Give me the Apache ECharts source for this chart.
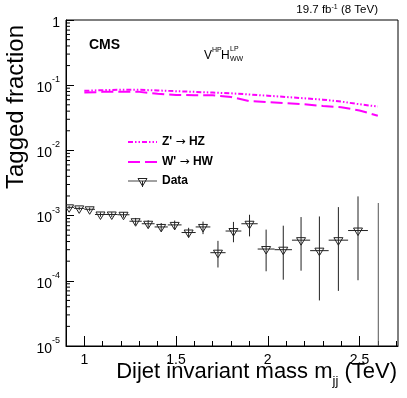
<!DOCTYPE html>
<html>
<head>
<meta charset="utf-8">
<script src="https://cdn.jsdelivr.net/npm/echarts@6/dist/echarts.min.js"></script>
<style>
  html, body { margin: 0; padding: 0; background: #fff; }
  #chart { width: 407px; height: 398px; }
</style>
</head>
<body>
<div id="chart"></div>
<script>
// dijet mass bins (TeV)
const binEdges = [0.890, 0.944, 1.000, 1.058, 1.118, 1.181, 1.246, 1.313, 1.383, 1.455, 1.530,
                  1.607, 1.687, 1.770, 1.856, 1.945, 2.037, 2.132, 2.231, 2.332, 2.438, 2.546, 2.659];
// tagged fraction in data, with error band
const dataVal = [1.34e-3, 1.29e-3, 1.25e-3, 1.04e-3, 1.04e-3, 1.03e-3, 8.2e-4, 7.5e-4, 6.7e-4, 7.2e-4, 5.5e-4,
                 6.7e-4, 2.7e-4, 5.8e-4, 7.5e-4, 3.07e-4, 3.0e-4, 4.2e-4, 2.9e-4, 4.2e-4, 5.9e-4, 0];
const dataHi  = [1.42e-3, 1.37e-3, 1.33e-3, 1.12e-3, 1.13e-3, 1.13e-3, 9.2e-4, 8.5e-4, 7.7e-4, 8.4e-4, 6.5e-4,
                 8.1e-4, 4.1e-4, 8.0e-4, 1.03e-3, 6.1e-4, 7.0e-4, 9.5e-4, 9.7e-4, 1.35e-3, 1.97e-3, 1.56e-3];
const dataLo  = [1.26e-3, 1.21e-3, 1.17e-3, 9.6e-4, 9.5e-4, 9.3e-4, 7.2e-4, 6.5e-4, 5.8e-4, 6.1e-4, 4.6e-4,
                 5.2e-4, 1.6e-4, 3.9e-4, 4.8e-4, 1.4e-4, 1.04e-4, 1.43e-4, 5.0e-5, 7.0e-5, 1.02e-4, 0];
// signal efficiencies vs resonance mass
const sigMass  = [1.0, 1.1, 1.2, 1.3, 1.4, 1.5, 1.6, 1.7, 1.8, 1.9, 2.0, 2.1, 2.2, 2.3, 2.4, 2.5, 2.6];
const zprimeHZ = [0.082, 0.084, 0.085, 0.085, 0.083, 0.081, 0.079, 0.077, 0.075, 0.072, 0.069, 0.066, 0.063, 0.060, 0.056, 0.051, 0.047];
const wprimeHW = [0.077, 0.079, 0.079, 0.079, 0.074, 0.071, 0.070, 0.070, 0.066, 0.057, 0.055, 0.053, 0.051, 0.048, 0.046, 0.041, 0.034];
// axis ticks
const xMajorTicks = [1, 1.5, 2, 2.5];
const xMinorTicks = [1.1, 1.2, 1.3, 1.4, 1.6, 1.7, 1.8, 1.9, 2.1, 2.2, 2.3, 2.4, 2.6, 2.7];
const yMinorTicks = [];
[-5, -4, -3, -2, -1].forEach(function (e) {
  for (let k = 2; k <= 9; k++) yMinorTicks.push(k * Math.pow(10, e));
});

const X_MIN = 0.9, X_MAX = 2.71;
const FONT = 'Liberation Sans, Arial, sans-serif';

const dataRows = dataVal.map(function (v, i) {
  return [binEdges[i], binEdges[i + 1], v, dataLo[i], dataHi[i]];
});

function renderData(params, api) {
  const x0 = api.value(0), x1 = api.value(1), v = api.value(2), lo = api.value(3), hi = api.value(4);
  const xc = (x0 + x1) / 2;
  const cs = params.coordSys;
  const style = { stroke: '#222', lineWidth: 1, fill: null };
  const top = api.coord([xc, hi]);
  const kids = [];
  if (v > 0) {
    const c = api.coord([xc, v]);
    const l = api.coord([x0, v]);
    const r = api.coord([x1, v]);
    const b = api.coord([xc, lo]);
    kids.push({ type: 'line', shape: { x1: l[0], y1: c[1], x2: r[0], y2: c[1] }, style: style });
    kids.push({ type: 'line', shape: { x1: c[0], y1: top[1], x2: c[0], y2: b[1] }, style: style });
    kids.push({ type: 'polygon', shape: { points: [[c[0] - 4.5, c[1] - 2.5], [c[0] + 4.5, c[1] - 2.5], [c[0], c[1] + 5]] },
                style: { stroke: '#222', lineWidth: 1, fill: 'rgba(255,255,255,0)' } });
  } else {
    kids.push({ type: 'line', shape: { x1: top[0], y1: top[1], x2: top[0], y2: cs.y + cs.height }, style: { stroke: '#555', lineWidth: 1 } });
  }
  return { type: 'group', children: kids };
}

function renderMinorY(params, api) {
  const p = api.coord([api.value(0), api.value(1)]);
  return { type: 'line', shape: { x1: p[0], y1: p[1], x2: p[0] + 4, y2: p[1] }, style: { stroke: '#000', lineWidth: 1 } };
}

const chart = echarts.init(document.getElementById('chart'));

const arrowRich = { a: { fontFamily: 'DejaVu Sans', fontSize: 12, fill: '#000' } };

const option = {
  animation: false,
  backgroundColor: '#fff',
  grid: { left: 66, right: 9, top: 20, bottom: 52, show: true, borderColor: '#000', borderWidth: 1 },
  xAxis: [
    {
      type: 'value', min: X_MIN, max: X_MAX,
      axisLine: { lineStyle: { color: '#000' } },
      splitLine: { show: false },
      axisTick: { inside: true, length: 10, customValues: xMajorTicks, lineStyle: { color: '#000' } },
      axisLabel: { customValues: xMajorTicks, margin: 7, fontFamily: FONT, fontSize: 14, color: '#000',
                   formatter: function (v) { return String(v); } }
    },
    {
      type: 'value', min: X_MIN, max: X_MAX, position: 'bottom',
      axisLine: { show: false },
      splitLine: { show: false },
      axisTick: { inside: true, length: 5, customValues: xMinorTicks, lineStyle: { color: '#000' } },
      axisLabel: { show: false }
    }
  ],
  yAxis: {
    type: 'log', logBase: 10, min: 1e-5, max: 1,
    axisLine: { lineStyle: { color: '#000' } },
    splitLine: { show: false },
    axisTick: { inside: true, length: 8, lineStyle: { color: '#000' } },
    axisLabel: {
      margin: 6, color: '#000',
      formatter: function (v) {
        const e = Math.round(Math.log10(v));
        return e === 0 ? '{b|1}' : '{b|10}{s|' + e + '}';
      },
      rich: {
        b: { fontFamily: FONT, fontSize: 14, lineHeight: 20, verticalAlign: 'bottom', color: '#000' },
        s: { fontFamily: FONT, fontSize: 9, lineHeight: 20, verticalAlign: 'top', color: '#000' }
      }
    }
  },
  series: [
    {
      name: "Z' \u2192 HZ", type: 'line', xAxisIndex: 0, showSymbol: false, silent: true,
      data: sigMass.map(function (m, i) { return [m, zprimeHZ[i]]; }),
      lineStyle: { color: '#ff00ff', width: 2, type: [5, 2, 1.5, 2, 1.5, 2] }
    },
    {
      name: "W' \u2192 HW", type: 'line', xAxisIndex: 0, showSymbol: false, silent: true,
      data: sigMass.map(function (m, i) { return [m, wprimeHW[i]]; }),
      lineStyle: { color: '#ff00ff', width: 2, type: [12, 5] }
    },
    {
      name: 'Data', type: 'custom', xAxisIndex: 0, clip: true, silent: true,
      renderItem: renderData, data: dataRows
    },
    {
      name: 'yminor', type: 'custom', xAxisIndex: 0, silent: true,
      renderItem: renderMinorY,
      data: yMinorTicks.map(function (v) { return [X_MIN, v]; })
    }
  ],
  graphic: [
    { type: 'text', x: 89, y: 38, style: { text: 'CMS', font: 'bold 14px ' + FONT, fill: '#000' } },
    { type: 'text', x: 378, y: 16, style: { text: '19.7 fb{s|-1} (8 TeV)', textAlign: 'right', textVerticalAlign: 'bottom',
        font: '11.5px ' + FONT, fill: '#000',
        rich: { s: { fontSize: 7, verticalAlign: 'top', fontFamily: FONT, fill: '#000' } } } },
    // V^HP H^LP_WW
    { type: 'text', x: 204, y: 50, style: { text: 'V', font: '12px ' + FONT, fill: '#000' } },
    { type: 'text', x: 212, y: 47, style: { text: 'HP', font: '7px ' + FONT, fill: '#000' } },
    { type: 'text', x: 221, y: 50, style: { text: 'H', font: '12px ' + FONT, fill: '#000' } },
    { type: 'text', x: 230, y: 46, style: { text: 'LP', font: '7px ' + FONT, fill: '#000' } },
    { type: 'text', x: 230, y: 56, style: { text: 'WW', font: '7px ' + FONT, fill: '#000' } },
    // legend
    { type: 'line', shape: { x1: 128, y1: 142, x2: 157, y2: 142 }, style: { stroke: '#ff00ff', lineWidth: 2, lineDash: [5, 2, 1.5, 2, 1.5, 2] } },
    { type: 'text', x: 162, y: 142, style: { text: "Z' {a|\u2192} HZ", font: 'bold 12px ' + FONT, fill: '#000', textVerticalAlign: 'middle', rich: arrowRich } },
    { type: 'line', shape: { x1: 128, y1: 162, x2: 157, y2: 162 }, style: { stroke: '#ff00ff', lineWidth: 2, lineDash: [12, 5] } },
    { type: 'text', x: 162, y: 162, style: { text: "W' {a|\u2192} HW", font: 'bold 12px ' + FONT, fill: '#000', textVerticalAlign: 'middle', rich: arrowRich } },
    { type: 'line', shape: { x1: 128, y1: 181, x2: 157, y2: 181 }, style: { stroke: '#444', lineWidth: 1 } },
    { type: 'line', shape: { x1: 142.5, y1: 181, x2: 142.5, y2: 187 }, style: { stroke: '#222', lineWidth: 1 } },
    { type: 'polygon', shape: { points: [[138, 178.5], [147, 178.5], [142.5, 186]] }, style: { stroke: '#222', lineWidth: 1, fill: 'rgba(255,255,255,0)' } },
    { type: 'text', x: 162, y: 181, style: { text: 'Data', font: 'bold 12px ' + FONT, fill: '#000', textVerticalAlign: 'middle' } },
    // axis titles
    { type: 'text', x: 16, y: 107, rotation: Math.PI / 2,
      style: { text: 'Tagged fraction', font: '24px ' + FONT, fill: '#000', textAlign: 'center', textVerticalAlign: 'middle' } },
    { type: 'text', x: 397, y: 383, style: { text: 'Dijet invariant mass m{s|jj} (TeV)', textAlign: 'right', textVerticalAlign: 'bottom',
        font: '22px ' + FONT, fill: '#000',
        rich: { s: { fontSize: 13, verticalAlign: 'bottom', fontFamily: FONT, fill: '#000', padding: [0, 0, -5, 0] } } } }
  ]
};

chart.setOption(option);
</script>
</body>
</html>
